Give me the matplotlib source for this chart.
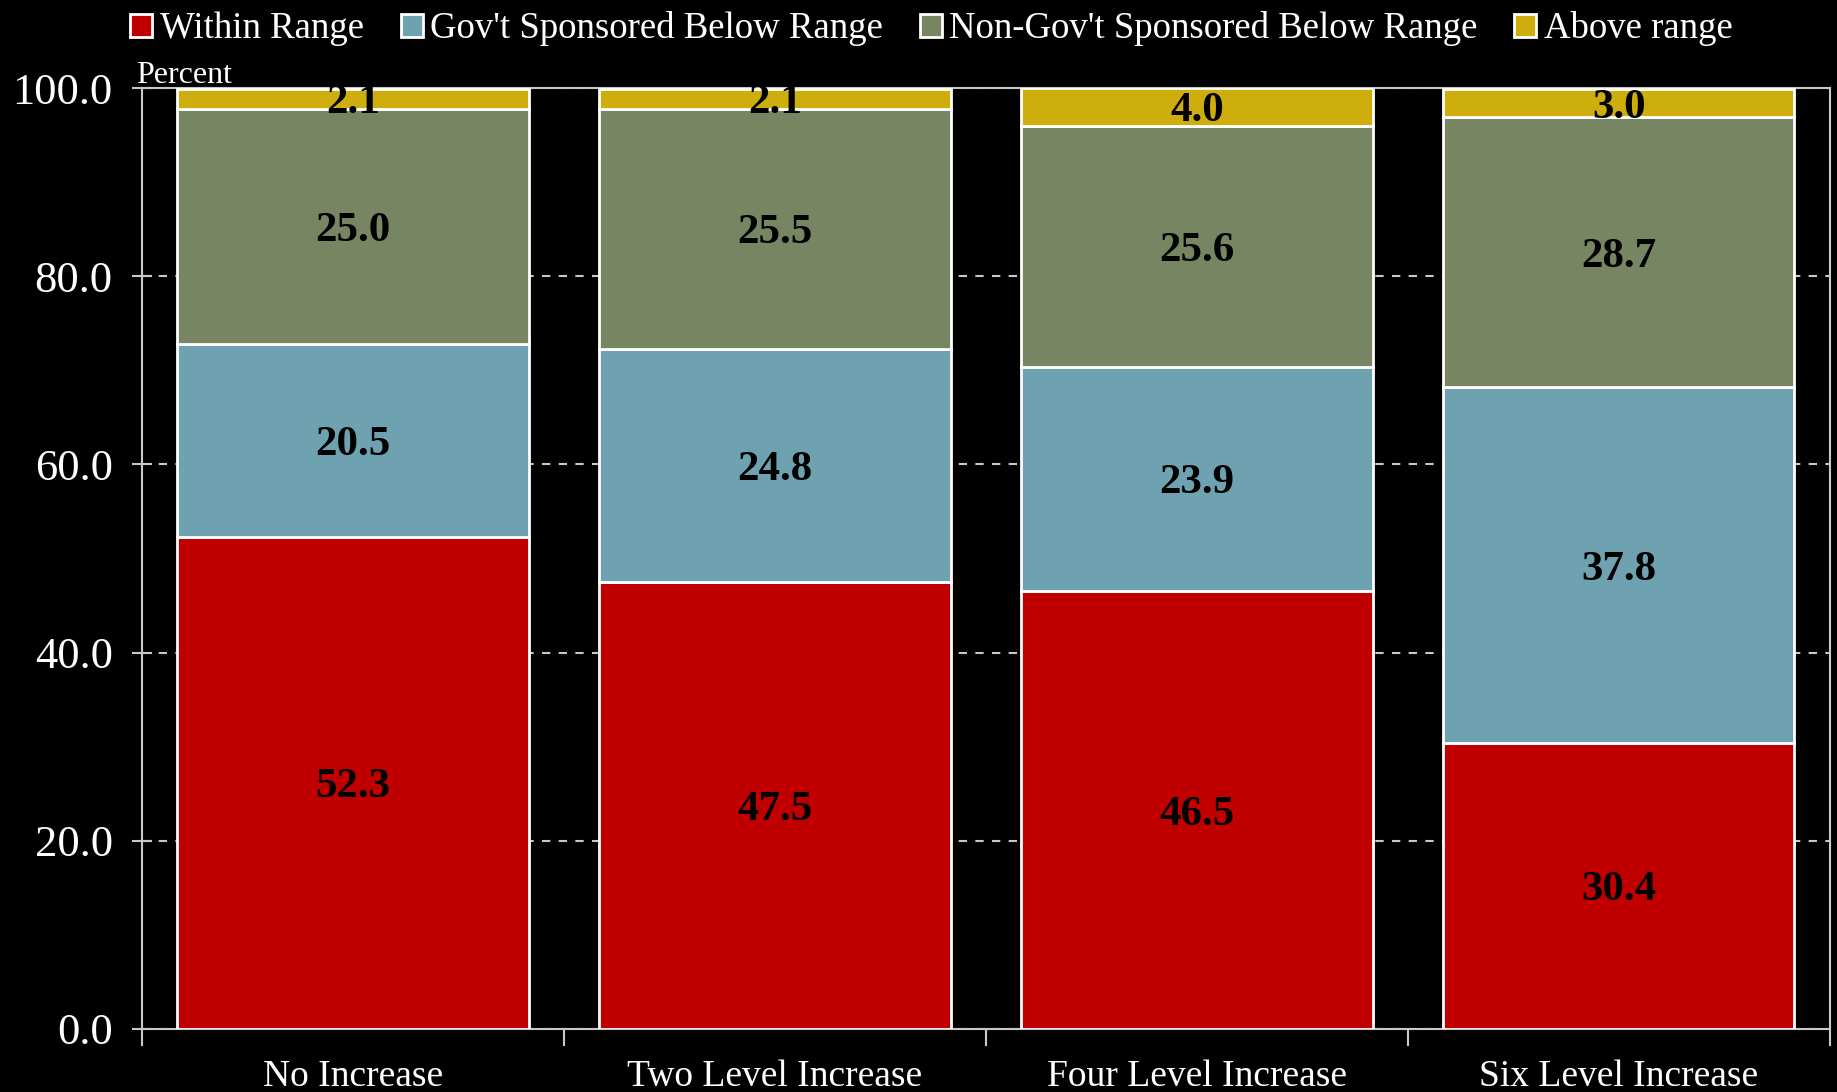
import numpy as np
import matplotlib
matplotlib.use("Agg")
import matplotlib.pyplot as plt

# datos
categorias = ["No Increase", "Two Level Increase", "Four Level Increase", "Six Level Increase"]
within_range = [52.3, 47.5, 46.5, 30.4]
gov_below = [20.5, 24.8, 23.9, 37.8]
nongov_below = [25.0, 25.5, 25.6, 28.7]
above_range = [2.1, 2.1, 4.0, 3.0]

series = [
    ("Within Range", within_range, "#C00000"),
    ("Gov't Sponsored Below Range", gov_below, "#6FA2B1"),
    ("Non-Gov't Sponsored Below Range", nongov_below, "#778562"),
    ("Above range", above_range, "#CDAE0C"),
]

plt.rcParams["font.family"] = ["Liberation Serif", "DejaVu Serif"]

fig = plt.figure(figsize=(18.37, 10.92), dpi=100, facecolor="black")
ax = fig.add_axes([0.0773, 0.0577, 0.9187, 0.8617])
ax.set_facecolor("black")

x = np.arange(len(categorias))
base = np.zeros(len(categorias))
for nombre, vals, color in series:
    vals = np.array(vals)
    ax.bar(x, vals, width=0.833, bottom=base, color=color,
           edgecolor="white", linewidth=2, label=nombre, zorder=3)
    for xi, b, v in zip(x, base, vals):
        ax.text(xi, b + v / 2, f"{v:.1f}", ha="center", va="center_baseline",
                fontsize=31, fontweight="bold", color="black", zorder=4, clip_on=False)
    base = base + vals

ax.set_xlim(-0.5, 3.5)
ax.set_ylim(0, 100)
ax.set_yticks(np.arange(0, 101, 20))
ax.set_yticklabels([f"{v:.1f}" for v in np.arange(0, 101, 20)])
ax.tick_params(axis="y", colors="#C8C8C8", labelcolor="white", labelsize=32,
               direction="inout", length=14, width=1.5, pad=14)

ax.set_xticks(x)
ax.set_xticklabels(categorias)
ax.set_xticks(np.arange(-0.5, 3.6, 1), minor=True)
ax.tick_params(axis="x", which="major", length=0, labelcolor="white", labelsize=27, pad=22)
ax.tick_params(axis="x", which="minor", colors="#C8C8C8", direction="out", length=12, width=1.5)

ax.grid(axis="y", linestyle=(0, (4, 4)), color="#C8C8C8", linewidth=1.5, zorder=0)
ax.set_axisbelow(True)
for s in ax.spines.values():
    s.set_color("#C8C8C8")
    s.set_linewidth(1.5)

ax.text(-0.0035, 1.005, "Percent", transform=ax.transAxes, color="white",
        fontsize=23, ha="left", va="baseline")

fig.legend(loc="upper center", bbox_to_anchor=(0.507, 1.02), ncol=4,
           frameon=False, fontsize=26.5, handlelength=0.6, handleheight=0.6,
           handletextpad=0.2, columnspacing=1.0, labelcolor="white")

fig.savefig("out.png", dpi=100, facecolor="black")
